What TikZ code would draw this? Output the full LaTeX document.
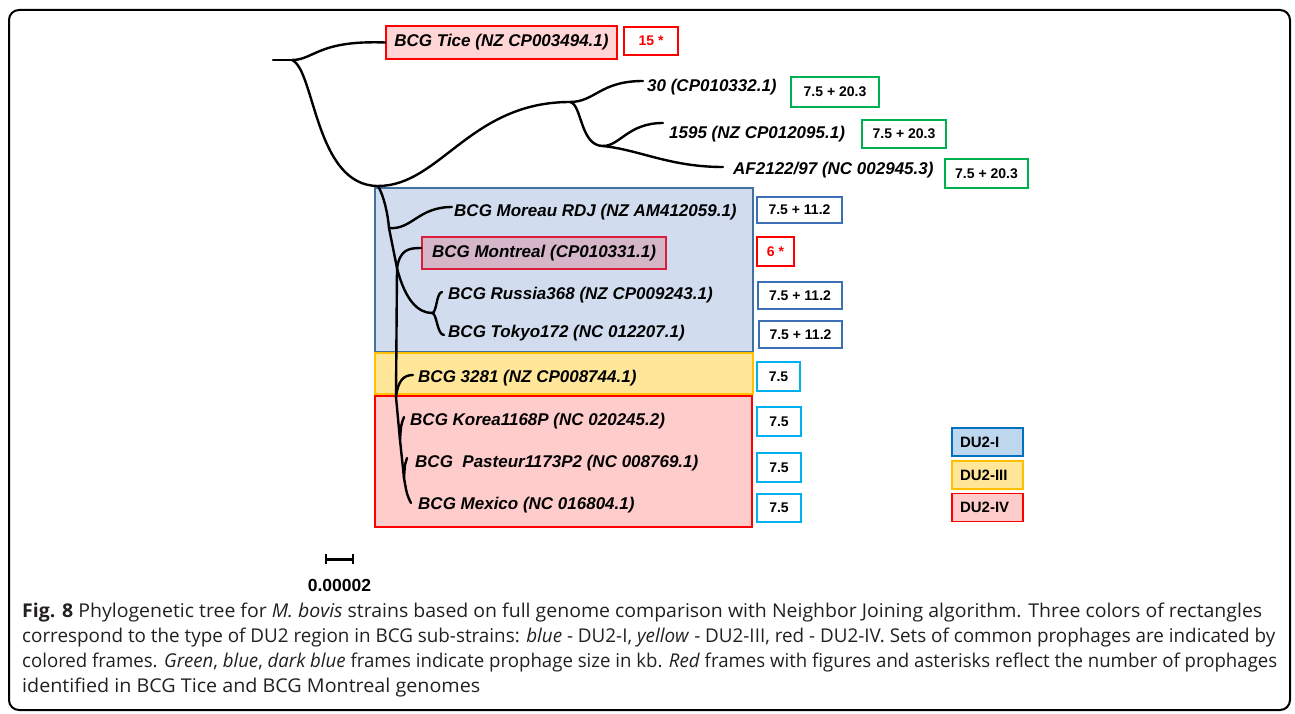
\documentclass[tikz,border=0pt]{standalone}
\usepackage{fontspec}
\usepackage{graphicx}
\setmainfont{Liberation Sans}
\newfontfamily\capfont{Open Sans}
\usetikzlibrary{calc}
\definecolor{blueFill}{HTML}{D1DDEE}
\definecolor{blueLine}{HTML}{41719C}
\definecolor{legBlueFill}{HTML}{BDD7EE}
\definecolor{legBlueLine}{HTML}{0070C0}
\definecolor{yelFill}{HTML}{FFE699}
\definecolor{yelLine}{HTML}{FFC000}
\definecolor{redFill}{HTML}{FFCCCC}
\definecolor{redLine}{HTML}{FF0000}
\definecolor{ticeFill}{HTML}{FFD5D5}
\definecolor{montFill}{HTML}{D4B6C8}
\definecolor{montLine}{HTML}{DC1E3C}
\definecolor{grnLine}{HTML}{00B050}
\definecolor{valBlue}{HTML}{3B6FB6}
\definecolor{cyanLine}{HTML}{00B0F0}
\definecolor{capText}{HTML}{231F20}
\begin{document}
\begin{tikzpicture}[x=1pt,y=-1pt,
  br/.style={line width=2.4pt, line cap=round},
  lab/.style={anchor=west, inner sep=0pt, font=\fontsize{17}{20}\selectfont\bfseries\itshape},
  boxlab/.style={inner sep=0pt, line width=1.8pt, font=\fontsize{17}{20}\selectfont\bfseries\itshape},
  valbox/.style={draw, line width=1.8pt, fill=white, inner sep=0pt, font=\fontsize{14}{16}\selectfont\bfseries},
  region/.style={line width=1.8pt, inner sep=0pt},
  legbox/.style={line width=1.8pt, inner xsep=8pt, inner ysep=0pt, minimum height=28pt, text width=55pt, align=left, font=\fontsize{15}{17}\selectfont\bfseries},
  capline/.style={anchor=base west, inner sep=0pt, text=capText, font=\capfont\fontsize{19}{24}\selectfont}
]
\useasboundingbox (0,0) rectangle (1295,714);

% DU2 regions
\node[region, draw=blueLine, fill=blueFill, minimum width=378pt, minimum height=164pt] (regI) at (564,270) {};
\node[region, draw=yelLine, fill=yelFill, minimum width=378pt, minimum height=41pt] (regIII) at (564,373.5) {};
\node[region, draw=redLine, fill=redFill, minimum width=377pt, minimum height=131pt] (regIV) at (563.5,461.5) {};

% boxed labels
\node[boxlab, draw=redLine, fill=ticeFill, minimum width=231pt, minimum height=33pt] (tice) at (501.5,42.5) {BCG Tice (NZ CP003494.1)};
\node[boxlab, draw=montLine, fill=montFill, minimum width=244pt, minimum height=32pt] (montreal) at (544,253) {BCG Montreal (CP010331.1)};

% plain labels
\node[lab] (t30) at (647,87) {30 (CP010332.1)};
\node[lab] (t1595) at (669,134) {1595 (NZ CP012095.1)};
\node[lab] (tAF) at (733,170) {AF2122/97 (NC 002945.3)};
\node[lab] (tMor) at (454,212) {BCG Moreau RDJ (NZ AM412059.1)};
\node[lab] (tRus) at (448,295) {BCG Russia368 (NZ CP009243.1)};
\node[lab] (tTok) at (448,333) {BCG Tokyo172 (NC 012207.1)};
\node[lab] (t3281) at (418,378) {BCG 3281 (NZ CP008744.1)};
\node[lab] (tKor) at (410,421) {BCG Korea1168P (NC 020245.2)};
\node[lab] (tPas) at (415,463) {BCG\ \ Pasteur1173P2 (NC 008769.1)};
\node[lab] (tMex) at (418,505) {BCG Mexico (NC 016804.1)};

% value boxes
\node[valbox, draw=redLine, text=redLine, minimum width=54pt, minimum height=28pt] (v15) at (651,41) {15 *};
\node[valbox, draw=grnLine, minimum width=88pt, minimum height=30pt] (v30) at (835,92) {7.5 + 20.3};
\node[valbox, draw=grnLine, minimum width=84pt, minimum height=28pt] (v1595) at (904,134) {7.5 + 20.3};
\node[valbox, draw=grnLine, minimum width=83pt, minimum height=29pt] (vAF) at (986.5,173.5) {7.5 + 20.3};
\node[valbox, draw=valBlue, minimum width=85pt, minimum height=26pt] (vMor) at (799.5,210) {7.5 + 11.2};
\node[valbox, draw=redLine, text=redLine, minimum width=37pt, minimum height=29pt] (v6) at (775.5,251.5) {6 *};
\node[valbox, draw=valBlue, minimum width=84pt, minimum height=27pt] (vRus) at (800,295.5) {7.5 + 11.2};
\node[valbox, draw=valBlue, minimum width=83pt, minimum height=27pt] (vTok) at (800.5,334.5) {7.5 + 11.2};
\node[valbox, draw=cyanLine, minimum width=43pt, minimum height=29pt] (v3281) at (778.5,376.5) {7.5};
\node[valbox, draw=cyanLine, minimum width=44pt, minimum height=29pt] (vKor) at (779,421.5) {7.5};
\node[valbox, draw=cyanLine, minimum width=44pt, minimum height=29pt] (vPas) at (779,467.5) {7.5};
\node[valbox, draw=cyanLine, minimum width=44pt, minimum height=28pt] (vMex) at (779,508) {7.5};

% legend
\node[legbox, draw=legBlueLine, fill=legBlueFill] (legI) at (987.5,442) {DU2-I};
\node[legbox, draw=yelLine, fill=yelFill] (legIII) at (987.5,475) {DU2-III};
\node[legbox, draw=redLine, fill=redFill] (legIV) at (987.5,507.5) {DU2-IV};

% tree internal points
\coordinate (root) at (273,60);
\coordinate (r0) at (292,60);
\coordinate (n1) at (378,186);
\coordinate (n2) at (570,102);
\coordinate (n3) at (603,146);
\coordinate (m1) at (389,228);
\coordinate (m2) at (397,268);
\coordinate (m3) at (396,397);
\coordinate (m4) at (432,313);
\coordinate (k) at (400,440);
\coordinate (p) at (404,478);
% leaf ends
\coordinate (e30) at ($(t30.west)+(-4,-6)$);
\coordinate (e1595) at ($(t1595.west)+(-6,-11)$);
\coordinate (eAF) at ($(tAF.west)+(-10,-3)$);
\coordinate (eMor) at ($(tMor.west)+(-2,-5)$);
\coordinate (eMont) at ($(montreal.west)+(0,-5)$);
\coordinate (eRus) at ($(tRus.west)+(-6,-3)$);
\coordinate (eTok) at ($(tTok.west)+(-4,2)$);
\coordinate (e3281) at ($(t3281.west)+(-5,-3)$);
\coordinate (eKor) at ($(tKor.west)+(-6,-4)$);
\coordinate (ePas) at ($(tPas.west)+(-8,-5)$);
\coordinate (eMex) at ($(tMex.west)+(-7,-2)$);

% branches
\draw[br] (root) -- (r0);
\draw[br] (r0) .. controls (314,60) and (318,40) .. (tice.west);
\draw[br] (r0) .. controls (315,70) and (315,186) .. (n1);
\draw[br] (n1) .. controls (440,186) and (470,102) .. (n2);
\draw[br] (n2) .. controls (595,102) and (600,81) .. (e30);
\draw[br] (n2) .. controls (582,104) and (580,146) .. (n3);
\draw[br] (n3) .. controls (620,146) and (628,123) .. (e1595);
\draw[br] (n3) .. controls (640,150) and (670,167) .. (eAF);
\draw[br] (n1) .. controls (384,196) and (388,215) .. (m1) -- (m2) -- (m3) -- (k) -- (p) .. controls (407,495) .. (eMex);
\draw[br] (m1) .. controls (412,230) and (418,207) .. (eMor);
\draw[br] (m2) .. controls (400,250) and (408,248) .. (eMont);
\draw[br] (m2) .. controls (405,300) and (418,313) .. (m4);
\draw[br] (m4) .. controls (437,313) and (436,293) .. (eRus);
\draw[br] (m4) .. controls (437,313) and (437,335) .. (eTok);
\draw[br] (m3) .. controls (398,380) and (404,375) .. (e3281);
\draw[br] (k) .. controls (401,425) .. (eKor);
\draw[br] (p) .. controls (405,463) .. (ePas);

% scale bar
\coordinate (sbL) at (326,559);
\coordinate (sbR) at (353,559);
\draw[line width=3pt] (sbL) -- (sbR);
\draw[line width=2.2pt] ($(sbL)+(0,-5)$) -- ($(sbL)+(0,5)$);
\draw[line width=2.2pt] ($(sbR)+(0,-5)$) -- ($(sbR)+(0,5)$);
\node[font=\fontsize{17.5}{20}\selectfont\bfseries, inner sep=0pt] (sblab) at (339.5,585) {0.00002};

% caption
\node[capline] (cap1) at (22,617) {\resizebox{1240pt}{\height}{\textbf{Fig. 8} Phylogenetic tree for \textit{M. bovis} strains based on full genome comparison with Neighbor Joining algorithm. Three colors of rectangles}};
\node[capline] (cap2) at (22,642) {\resizebox{1253pt}{\height}{correspond to the type of DU2 region in BCG sub-strains: \textit{blue} - DU2-I, \textit{yellow} - DU2-III, red - DU2-IV. Sets of common prophages are indicated by}};
\node[capline] (cap3) at (22,667) {\resizebox{1255pt}{\height}{colored frames. \textit{Green}, \textit{blue}, \textit{dark blue} frames indicate prophage size in kb. \textit{Red} frames with figures and asterisks reflect the number of prophages}};
\node[capline] (cap4) at (22,692) {\resizebox{458pt}{\height}{identified in BCG Tice and BCG Montreal genomes}};

% outer frame
\draw[line width=2pt, rounded corners=10pt] (9,10) rectangle (1290,710);
\end{tikzpicture}
\end{document}
